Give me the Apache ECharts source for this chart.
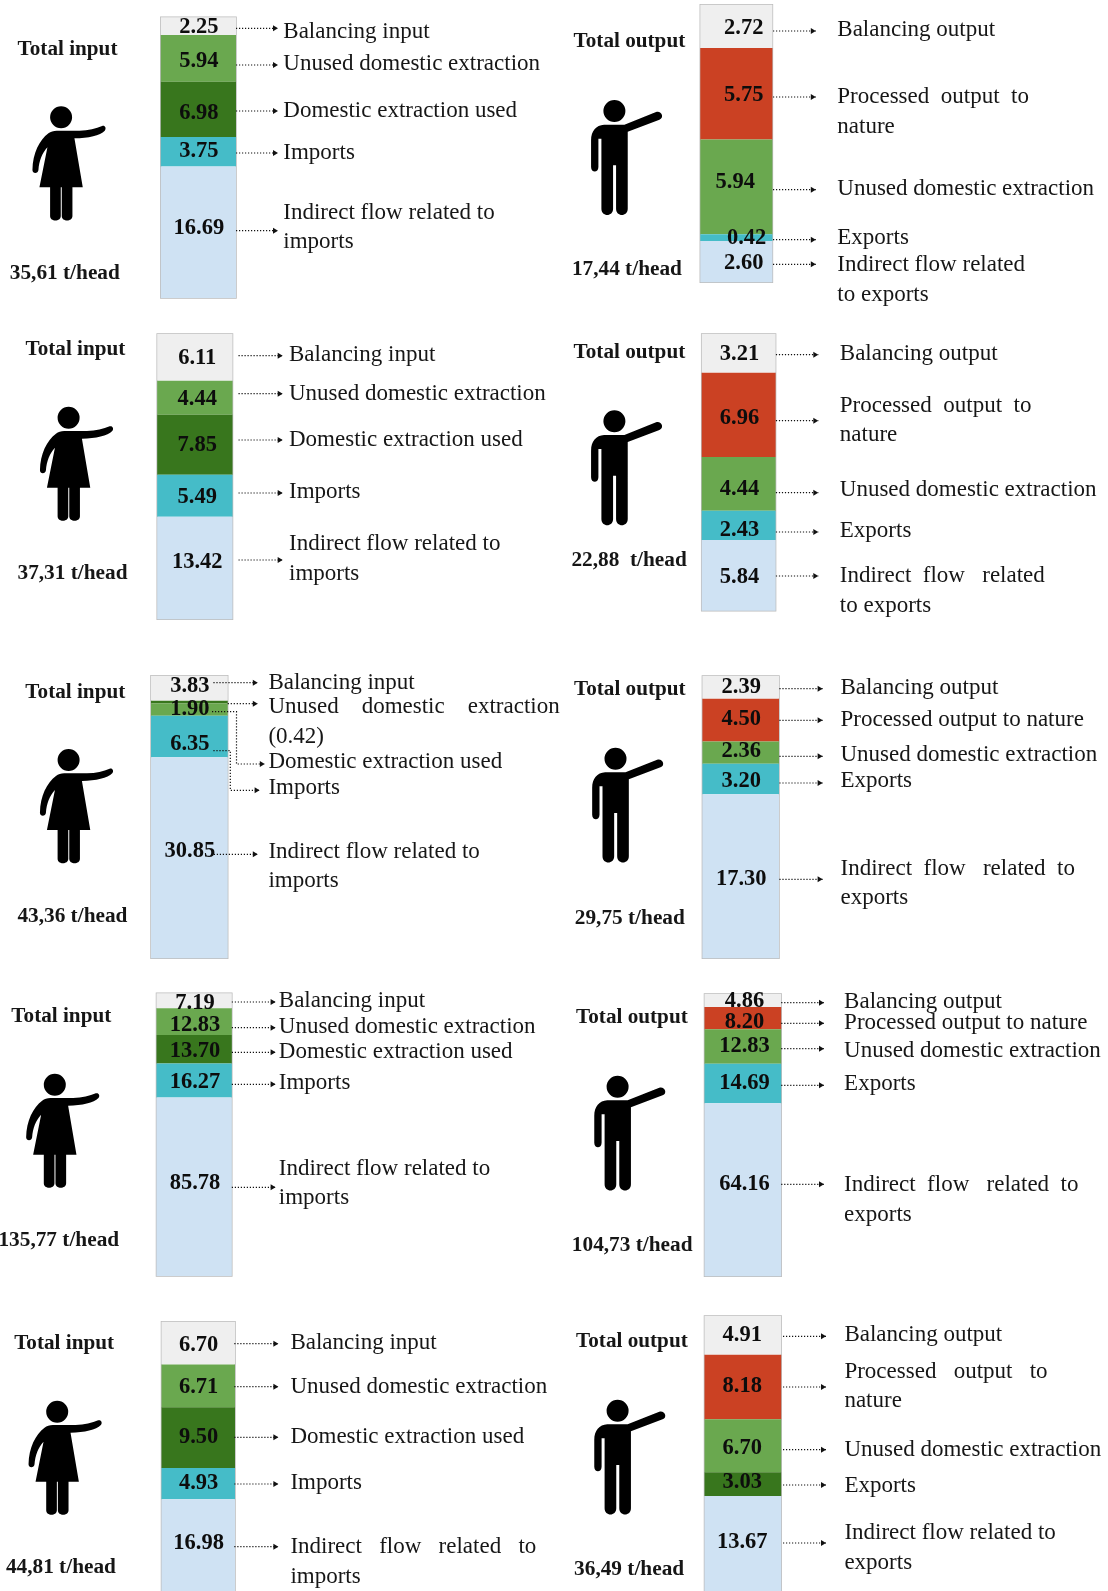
<!DOCTYPE html>
<html>
<head>
<meta charset="utf-8">
<style>html,body{margin:0;padding:0;background:#fff;overflow:hidden}#c{width:1108px;height:1591px}</style>
<script src="https://cdn.jsdelivr.net/npm/echarts@6/dist/echarts.min.js"></script>
</head>
<body>
<div id="c"></div>
<script>
// ---- values (top segment first) ----
const input1 = [2.25, 5.94, 6.98, 3.75, 16.69];
const output1 = [2.72, 5.75, 5.94, 0.42, 2.60];
const input2 = [6.11, 4.44, 7.85, 5.49, 13.42];
const output2 = [3.21, 6.96, 4.44, 2.43, 5.84];
const input3 = [3.83, 0.42, 1.90, 6.35, 30.85];
const output3 = [2.39, 4.50, 2.36, 3.20, 17.30];
const input4 = [7.19, 12.83, 13.70, 16.27, 85.78];
const output4 = [4.86, 8.20, 12.83, 14.69, 64.16];
const input5 = [6.70, 6.71, 9.50, 4.93, 16.98];
const output5 = [4.91, 8.18, 6.70, 3.03, 13.67];
const totals = ['35,61 t/head','17,44 t/head','37,31 t/head','22,88  t/head','43,36 t/head','29,75 t/head','135,77 t/head','104,73 t/head','44,81 t/head','36,49 t/head'];

// ---- colours ----
const GREY='#EFEFEF', RED='#CB4123', MID='#6AA84F', DARK='#38761D', TEAL='#45BCC8', SKY='#CFE2F3';
const inCols=[GREY,MID,DARK,TEAL,SKY], outCols=[GREY,RED,MID,TEAL,SKY];

// ---- layout: bar box, value label centres, headings, figure, notes ----
// notes: [line y of arrow, [text lines], [text y per line]]
const panels=[
{v:input1,c:inCols,x0:160.8,x1:236,y0:17.3,y1:298,lx:[198.2,198.2,198.2,198.2,198.2],ly:[26,60,111.7,149.7,227],
 title:'Total input',tx:67,ty:47.7,sx:64.3,sy:271.7,fig:'w',hx:61.1,hy:117.3,textX:283.7,a0:236,a1:278,notes:[
 [28.3,['Balancing input'],[30.7]],[65,['Unused domestic extraction'],[63.3]],[111,['Domestic extraction used'],[110]],[153,['Imports'],[151.7]],[230.7,['Indirect flow related to','imports'],[212,241.3]]]},
{v:output1,c:outCols,x0:700.3,x1:772.4,y0:4.7,y1:282.3,lx:[743,743,734.6,745.9,743],ly:[26.7,94.3,181,236.7,262.3],
 title:'Total output',tx:628.9,ty:40,sx:626.4,sy:268.3,fig:'m',hx:614.4,hy:111,textX:837.7,a0:773,a1:815.8,notes:[
 [31,['Balancing output'],[29.3]],[97,['Processed  output  to','nature'],[96,125.7]],[189.7,['Unused domestic extraction'],[187.7]],[239.7,['Exports'],[237.3]],[264.3,['Indirect flow related','to exports'],[264,294]]]},
{v:input2,c:inCols,x0:157.2,x1:232.5,y0:334,y1:619.3,lx:[196.5,196.5,196.5,196.5,196.5],ly:[356.7,397.7,444.3,496,560.7],
 title:'Total input',tx:74.9,ty:348.3,sx:72,sy:571.7,fig:'w',hx:68.6,hy:417.7,textX:289.4,a0:238.5,a1:282.7,notes:[
 [355.7,['Balancing input'],[354]],[393.7,['Unused domestic extraction'],[392.7]],[440,['Domestic extraction used'],[438.7]],[493,['Imports'],[491.3]],[560,['Indirect flow related to','imports'],[543.3,573]]]},
{v:output2,c:outCols,x0:701.7,x1:775.6,y0:334,y1:610.7,lx:[738.8,738.8,738.8,738.8,738.8],ly:[353.3,416.7,488,529.3,576],
 title:'Total output',tx:628.9,ty:350.7,sx:628.6,sy:559,fig:'m',hx:614.4,hy:421.3,textX:840.2,a0:775.9,a1:818.3,notes:[
 [354.7,['Balancing output'],[352.7]],[420.7,['Processed  output  to','nature'],[404.7,434.3]],[492.7,['Unused domestic extraction'],[489]],[532,['Exports'],[530]],[576,['Indirect  flow   related','to exports'],[575,605]]]},
{v:input3,c:[GREY,DARK,MID,TEAL,SKY],x0:151,x1:227.7,y0:675.7,y1:958.3,lx:[189.2,null,189.2,189.2,189.2],ly:[685,null,707.7,743.3,850],
 title:'Total input',tx:74.8,ty:690.7,sx:71.9,sy:915,fig:'w',hx:68.6,hy:760,textX:268.8,a0:213.4,a1:257.8,notes:[
 [682.7,['Balancing input'],[682]],[703.7,['Unused    domestic    extraction','(0.42)'],[706.3,736.3],227.7],
 [[[212,711.7],[236.5,711.7],[236.5,764],[264.8,764]],['Domestic extraction used'],[761]],
 [[[213.4,750.7],[230.3,750.7],[230.3,790.3],[259.6,790.3]],['Imports'],[787.3]],
 [854.3,['Indirect flow related to','imports'],[851,880.3],213.8]]},
{v:output3,c:outCols,x0:702.4,x1:779,y0:676,y1:958.3,lx:[740.6,740.6,740.6,740.6,740.6],ly:[686,717.7,750.3,780,877.7],
 title:'Total output',tx:629.3,ty:687.7,sx:629.3,sy:916.7,fig:'m',hx:615.5,hy:758.7,textX:840.9,a0:779.4,a1:822.6,notes:[
 [688.7,['Balancing output'],[686.7]],[720.3,['Processed output to nature'],[719.3]],[756.3,['Unused domestic extraction'],[754]],[783,['Exports'],[780.3]],[879.3,['Indirect  flow   related  to','exports'],[867.7,897.3]]]},
{v:input4,c:inCols,x0:156.5,x1:231.8,y0:993.3,y1:1276,lx:[194.3,194.3,194.3,194.3,194.3],ly:[1002,1024.3,1049.7,1081,1181.7],
 title:'Total input',tx:60.8,ty:1015,sx:58.3,sy:1239.3,fig:'w',hx:54.8,hy:1084.7,textX:279.2,a0:231.8,a1:275.6,notes:[
 [1002,['Balancing input'],[1000.3]],[1027.7,['Unused domestic extraction'],[1026.3]],[1052.3,['Domestic extraction used'],[1051]],[1084.3,['Imports'],[1082.3]],[1187.3,['Indirect flow related to','imports'],[1168,1197.3]]]},
{v:output4,c:outCols,x0:704.5,x1:781.2,y0:994,y1:1276.3,lx:[743.8,743.8,743.8,743.8,743.8],ly:[1000,1021,1045.3,1082.3,1182.7],
 title:'Total output',tx:631.4,ty:1015.7,sx:631.7,sy:1244,fig:'m',hx:617.6,hy:1086.7,textX:844.5,a0:781.2,a1:824,notes:[
 [1002.7,['Balancing output'],[1001.3]],[1023.3,['Processed output to nature'],[1022.3]],[1048.7,['Unused domestic extraction'],[1050.3]],[1085.3,['Exports'],[1082.7]],[1184.3,['Indirect  flow   related  to','exports'],[1183.7,1213.7]]]},
{v:input5,c:inCols,x0:161.5,x1:235,y0:1321.7,y1:1607.7,lx:[197.9,197.9,197.9,197.9,197.9],ly:[1344.3,1385.7,1435.7,1481.7,1541.7],
 title:'Total input',tx:63.6,ty:1342,sx:60.4,sy:1566,fig:'w',hx:57.2,hy:1411.7,textX:290.8,a0:234.3,a1:278.4,notes:[
 [1343.7,['Balancing input'],[1341.7]],[1386.7,['Unused domestic extraction'],[1385.7]],[1437.3,['Domestic extraction used'],[1436]],[1484,['Imports'],[1481.7]],[1546.7,['Indirect   flow   related   to','imports'],[1546,1575.7]]]},
{v:output5,c:[GREY,RED,MID,DARK,SKY],x0:704.5,x1:781.2,y0:1316,y1:1604,lx:[741.6,741.6,741.6,741.6,741.6],ly:[1334,1385.3,1446.7,1481.3,1541.3],
 title:'Total output',tx:631.4,ty:1340,sx:628.6,sy:1568.3,fig:'m',hx:617.6,hy:1410.7,textX:844.8,a0:783,a1:826,notes:[
 [1336.3,['Balancing output'],[1334.3]],[1387,['Processed   output   to','nature'],[1371,1400.3]],[1449.7,['Unused domestic extraction'],[1449.3]],[1485,['Exports'],[1485.3]],[1543,['Indirect flow related to','exports'],[1531.7,1561.7]]]}
];

// pictograms, drawn at 3x; cx,cy = head centre
const WOMAN={cx:123,cy:82,path:'M90 82a33 33 0 1 0 66 0a33 33 0 1 0 -66 0Z '+
 'M85 130C92 125 100 122 110 122L178 122C205 122 228 116 246 108C254 105 260 114 254 122C240 137 205 144 163 145L188 292L157 292L157 378C157 396 125 396 125 378L125 292L122 292L122 378C122 396 90 396 90 378L90 292L58 292L82 172C66 190 57 212 55 240C54 252 37 252 37 240C38 190 58 150 85 130Z'};
const MAN={cx:103,cy:62,path:'M70 62a33 33 0 1 0 66 0a33 33 0 1 0 -66 0Z '+
 'M72 103L133 103L228 65C244 60 254 82 238 88L143 124L143 355C143 380 108 380 108 355L108 225L99 225L99 355C99 380 64 380 64 355L64 145L55 145L55 230C55 248 33 248 33 230L33 150C33 122 48 104 72 103Z'};

const FONT='"Liberation Serif", "Times New Roman", serif';
const INK='#161616';
const grid=[],xAxis=[],yAxis=[],series=[],elements=[];

function text(s,x,y,opt){
  elements.push({type:'text',silent:true,z:20,x:x,y:y,style:Object.assign({text:s,fontFamily:FONT,fontSize:23,fill:INK,verticalAlign:'middle',align:'left'},opt||{})});
}
function arrow(x,y){
  elements.push({type:'polygon',silent:true,z:20,shape:{points:[[x-5,y-3],[x,y],[x-5,y+3]]},style:{fill:'#111'}});
}
panels.forEach(function(p,i){
  const total=p.v.reduce(function(a,b){return a+b;},0);
  const h=p.y1-p.y0,k=h/total,mid=(p.x0+p.x1)/2;
  grid.push({left:p.x0,top:p.y0,width:p.x1-p.x0,height:h,outerBoundsMode:'none',show:true,backgroundColor:'transparent',borderColor:'#bcbcbc',borderWidth:1.5});
  xAxis.push({type:'category',gridIndex:i,data:[p.title],show:false});
  yAxis.push({type:'value',gridIndex:i,min:0,max:total,inverse:true,show:false});
  let cum=0;
  p.v.forEach(function(val,j){
    const centre=p.y0+(cum+val/2)*k;
    const hasLabel=p.ly[j]!==null;
    series.push({type:'bar',stack:'s'+i,xAxisIndex:i,yAxisIndex:i,barWidth:'100%',silent:true,animation:false,
      data:[{value:val,itemStyle:{color:p.c[j]},
        label:{show:hasLabel,position:'inside',formatter:function(o){return o.value.toFixed(2);},
          offset:hasLabel?[p.lx[j]+0.7-mid,p.ly[j]+1.2-centre]:[0,0],
          fontFamily:FONT,fontWeight:'bold',fontSize:22.5,color:'#0d0d0d'}}]});
    cum+=val;
  });
  text(p.title,p.tx+0.5,p.ty+1.5,{fontWeight:'bold',fontSize:21.2,align:'center'});
  text(totals[i],p.sx+0.5,p.sy+1.5,{fontWeight:'bold',fontSize:21.3,align:'center'});
  p.notes.forEach(function(n){
    n[1].forEach(function(line,l){text(line,p.textX-0.4,n[2][l]+0.8);});
    let pts;
    if(Array.isArray(n[0])) pts=n[0];
    else pts=[[n[3]!==undefined?n[3]:p.a0,n[0]],[p.a1,n[0]]];
    elements.push({type:'polyline',silent:true,z:19,shape:{points:pts},style:{stroke:'#111',lineWidth:1.2,lineDash:[1.2,1.8],fill:null}});
    const e=pts[pts.length-1];
    arrow(e[0],e[1]);
  });
});
// pictograms: one custom-series item per panel
series.push({type:'custom',coordinateSystem:'none',silent:true,animation:false,z:10,
  data:panels.map(function(p,i){return [i];}),
  renderItem:function(params){
    const p=panels[params.dataIndex];
    const f=p.fig==='w'?WOMAN:MAN;
    return {type:'path',x:p.hx-f.cx/3,y:p.hy-f.cy/3,scaleX:1/3,scaleY:1/3,shape:{pathData:f.path},style:{fill:'#000'}};
  }});
const chart=echarts.init(document.getElementById('c'),null,{renderer:'canvas',width:1108,height:1591});
chart.setOption({backgroundColor:'#fff',animation:false,tooltip:{show:false},grid:grid,xAxis:xAxis,yAxis:yAxis,series:series,graphic:{elements:elements}});
</script>
</body>
</html>
